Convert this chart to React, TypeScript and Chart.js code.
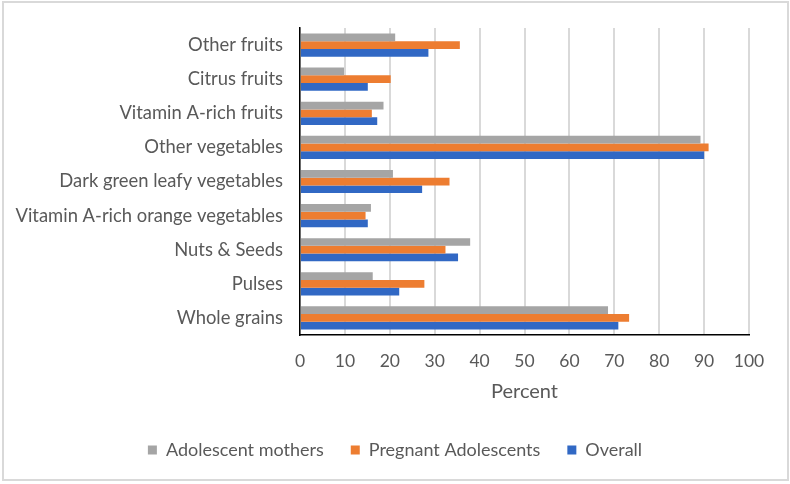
import React, { useEffect, useRef } from "react";
import { Chart, registerables } from "chart.js";

Chart.register(...registerables);

const categories = [
  "Other fruits",
  "Citrus fruits",
  "Vitamin A-rich fruits",
  "Other vegetables",
  "Dark green leafy vegetables",
  "Vitamin A-rich orange vegetables",
  "Nuts & Seeds",
  "Pulses",
  "Whole grains",
];

const adolescentMothers = [21.2, 9.8, 18.6, 89.2, 20.7, 15.8, 37.9, 16.2, 68.6];
const pregnantAdolescents = [35.6, 20.2, 16.0, 91.0, 33.3, 14.6, 32.4, 27.7, 73.3];
const overall = [28.6, 15.1, 17.2, 90.0, 27.2, 15.1, 35.2, 22.1, 70.9];

const seriesNames = ["Adolescent mothers", "Pregnant Adolescents", "Overall"];
const seriesColors = ["#A5A5A5", "#ED7D31", "#3168C4"];

const FONT = "Lato";
const TEXT = "#595959";

const centerLegend = {
  id: "centerLegend",
  afterLayout(chart: any) {
    const l = chart.legend;
    if (!l) return;
    const shift = (chart.width - (l.left + l.right)) / 2;
    l.left += shift;
    l.right += shift;
  },
};

export default function App() {
  const ref = useRef<HTMLCanvasElement | null>(null);

  useEffect(() => {
    if (!ref.current) return;
    const chart = new Chart(ref.current, {
      type: "bar",
      data: {
        labels: categories,
        datasets: [adolescentMothers, pregnantAdolescents, overall].map((d, i) => ({
          label: seriesNames[i],
          data: d,
          backgroundColor: seriesColors[i],
          borderWidth: 0,
          barPercentage: 1,
          categoryPercentage: 0.68,
        })),
      },
      plugins: [centerLegend],
      options: {
        indexAxis: "y",
        animation: false,
        responsive: false,
        maintainAspectRatio: false,
        layout: { padding: { top: 27, right: 41, left: 0, bottom: 15 } },
        scales: {
          x: {
            min: 0,
            max: 100,
            ticks: {
              stepSize: 10,
              color: TEXT,
              font: { family: FONT, size: 17.5 },
              padding: 16,
            },
            grid: { color: "#D9D9D9", lineWidth: 2, drawTicks: false },
            border: { color: "#000000", width: 1.5 },
            title: {
              display: true,
              text: "Percent",
              color: TEXT,
              font: { family: FONT, size: 20 },
              padding: { top: 0, bottom: 10 },
            },
            afterFit: (s: any) => {
              s.height = 79;
            },
          },
          y: {
            ticks: {
              color: TEXT,
              font: { family: FONT, size: 18.4 },
              padding: 17,
            },
            grid: { display: false, drawTicks: false },
            border: { color: "#000000", width: 1.5 },
            afterFit: (s: any) => {
              s.width = 300;
            },
          },
        },
        plugins: {
          legend: {
            position: "bottom",
            labels: {
              boxWidth: 9,
              boxHeight: 9,
              color: TEXT,
              font: { family: FONT, size: 18 },
              padding: 27,
            },
          },
          tooltip: { enabled: false },
        },
      },
    });
    return () => chart.destroy();
  }, []);

  return (
    <div
      style={{
        position: "absolute",
        left: 0,
        top: 0,
        width: 790,
        height: 484,
        background: "#fff",
      }}
    >
      <div
        style={{
          position: "absolute",
          left: 2,
          top: 1,
          width: 783,
          height: 476,
          border: "2px solid #D9D9D9",
        }}
      />
      <canvas
        ref={ref}
        width={790}
        height={484}
        style={{ position: "absolute", left: 0, top: 0, width: 790, height: 484 }}
      />
    </div>
  );
}
